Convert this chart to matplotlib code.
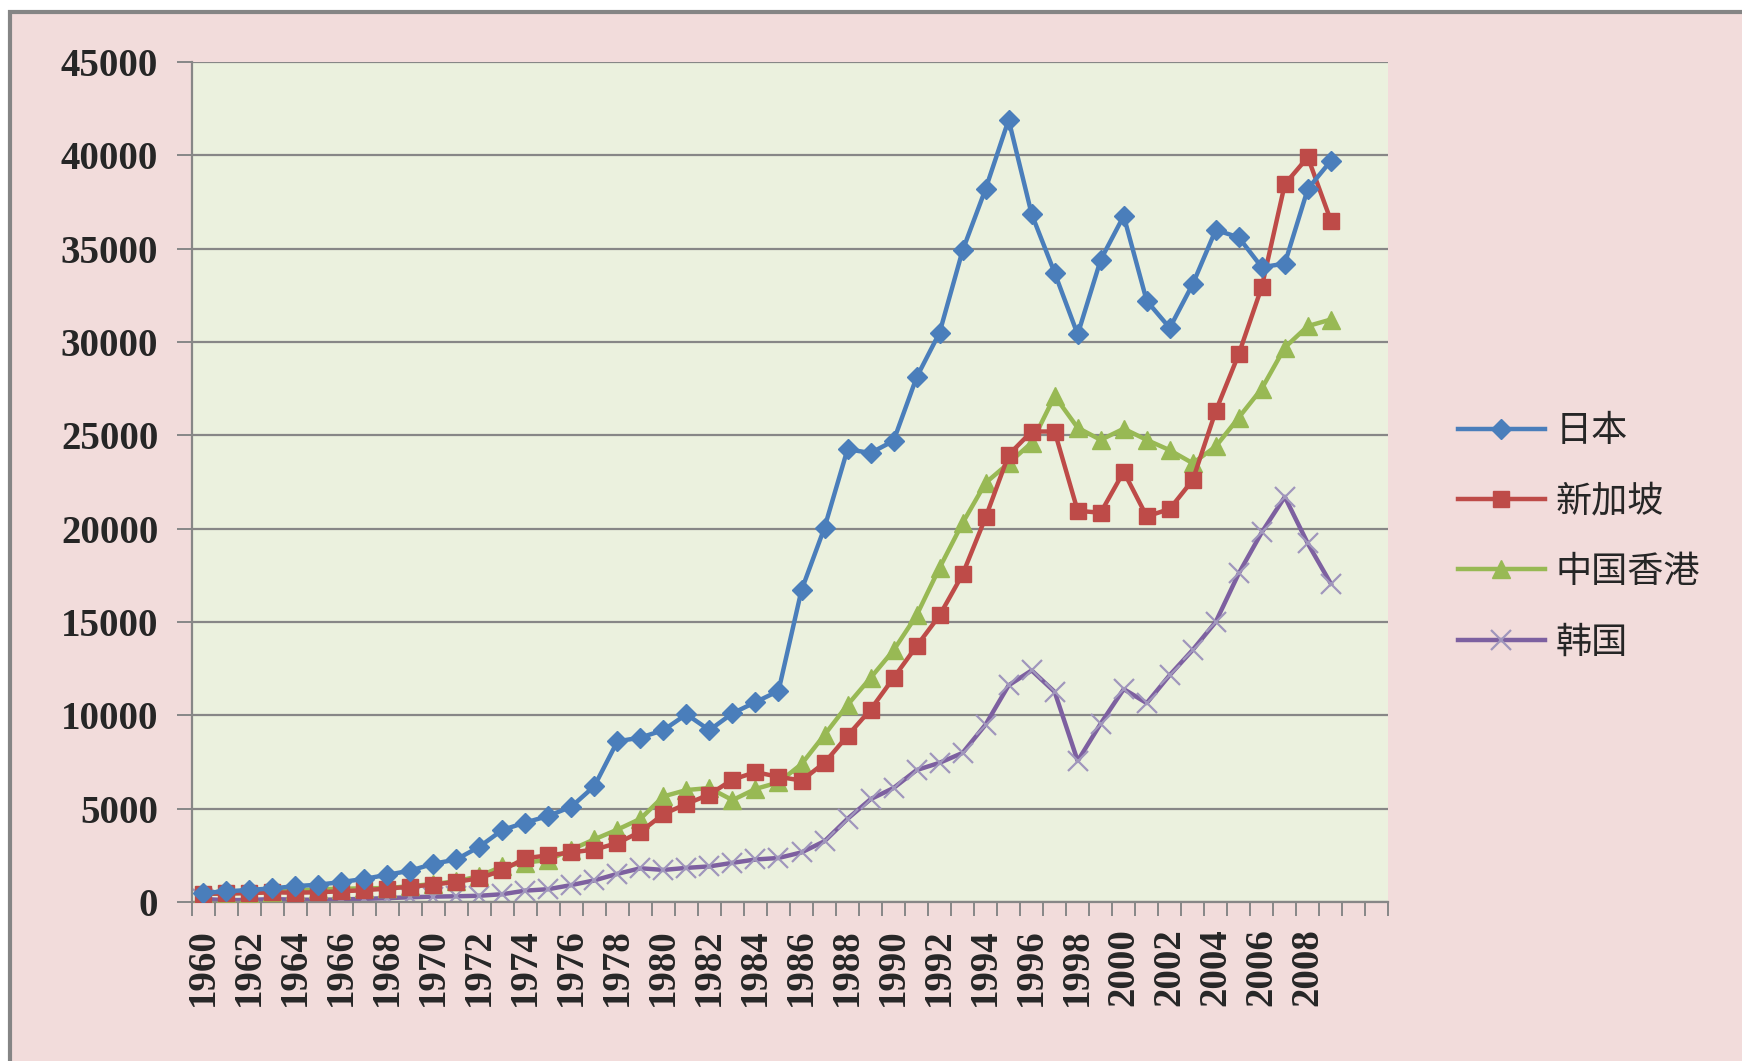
import matplotlib.pyplot as plt
import matplotlib.patches as patches
import numpy as np

years = list(range(1960, 2010))
# two empty categories after 2009, as in the original sheet
n_categories = 52

japan = [480, 560, 640, 720, 840, 920, 1060, 1230, 1450, 1670,
         2040, 2270, 2950, 3850, 4250, 4600, 5100, 6200, 8600, 8800,
         9200, 10050, 9200, 10100, 10700, 11300, 16700, 20050, 24250, 24050,
         24700, 28100, 30500, 34900, 38200, 41900, 36850, 33700, 30400, 34400,
         36750, 32200, 30750, 33100, 36000, 35600, 34000, 34200, 38200, 39700]

singapore = [430, 450, 470, 510, 490, 515, 565, 625, 710, 810,
             925, 1070, 1265, 1690, 2340, 2490, 2650, 2800, 3150, 3750,
             4700, 5250, 5750, 6550, 6950, 6700, 6500, 7450, 8900, 10300,
             12000, 13700, 15350, 17550, 20600, 23950, 25200, 25200, 20950, 20850,
             23050, 20650, 21050, 22600, 26300, 29350, 32950, 38450, 39900, 36500]

hongkong = [430, 440, 485, 550, 610, 680, 700, 725, 740, 840,
            960, 1100, 1380, 1900, 2100, 2250, 2800, 3350, 3870, 4450,
            5650, 5990, 6100, 5450, 6050, 6400, 7380, 8950, 10550, 12000,
            13480, 15350, 17900, 20300, 22450, 23500, 24600, 27100, 25400, 24750,
            25350, 24750, 24200, 23500, 24400, 25950, 27500, 29700, 30850, 31200]

korea = [155, 90, 105, 145, 120, 110, 130, 160, 200, 245,
         280, 300, 325, 410, 600, 680, 900, 1150, 1500, 1800,
         1710, 1820, 1900, 2090, 2270, 2350, 2650, 3250, 4450, 5500,
         6100, 7060, 7450, 7980, 9500, 11600, 12400, 11250, 7550, 9550,
         11400, 10650, 12150, 13500, 15000, 17600, 19800, 21700, 19200, 17050]

names = ['日本', '新加坡', '中国香港', '韩国']
yticks = list(range(0, 45001, 5000))

fig = plt.figure(figsize=(17.42, 10.61), dpi=100)
fig.patch.set_facecolor('white')

# pink chart area with grey frame
frame = patches.Rectangle((0.0057, -0.05), 1.1, 0.9887 + 0.05, transform=fig.transFigure,
                          facecolor='#f2dcdb', edgecolor='#858585', linewidth=3, zorder=-10)
fig.patches.append(frame)

ax = fig.add_axes([0.110, 0.150, 0.687, 0.7916])
ax.set_facecolor('#ebf1de')

x = np.arange(len(years))
ax.plot(x, japan, color='#4a7ebb', lw=3.2, marker='D', ms=10.5,
        mfc='#4a7ebb', mec='#4a7ebb', label=names[0], zorder=5)
ax.plot(x, singapore, color='#be4b48', lw=3.2, marker='s', ms=11.5,
        mfc='#be4b48', mec='#be4b48', label=names[1], zorder=4)
ax.plot(x, hongkong, color='#98b954', lw=3.2, marker='^', ms=12.5,
        mfc='#98b954', mec='#98b954', label=names[2], zorder=3)
ax.plot(x, korea, color='#7d60a0', lw=3.2, marker='x', ms=15, mew=1.6,
        mec='#a096bc', label=names[3], zorder=2)

ax.set_xlim(-0.5, n_categories - 0.5)
ax.set_ylim(0, 45000)

ax.set_yticks(yticks)
ax.set_yticklabels([str(v) for v in yticks])
ax.yaxis.grid(True, color='#878787', lw=1.6)
ax.set_axisbelow(True)

label_pos = [i for i, yr in enumerate(years) if yr % 2 == 0]
ax.set_xticks(label_pos)
ax.set_xticklabels([str(years[i]) for i in label_pos], rotation=90)
ax.set_xticks(np.arange(-0.5, n_categories, 1.0), minor=True)

ax.tick_params(axis='x', which='major', length=0, pad=19)
ax.tick_params(axis='x', which='minor', length=10, width=1.4, color='#878787', direction='out')
ax.tick_params(axis='y', length=11, width=1.4, color='#878787', pad=13)

for lab in ax.get_xticklabels() + ax.get_yticklabels():
    lab.set_fontfamily(['Liberation Serif', 'DejaVu Serif'])
    lab.set_fontweight('bold')
    lab.set_fontsize(28)
    lab.set_color('#262626')

for side in ['top', 'right']:
    ax.spines[side].set_visible(False)
for side in ['left', 'bottom']:
    ax.spines[side].set_color('#878787')
    ax.spines[side].set_linewidth(1.6)

leg = fig.legend(loc='center left', bbox_to_anchor=(0.837, 0.494), frameon=False,
                 prop={'family': ['Noto Sans CJK SC', 'DejaVu Sans'], 'size': 26},
                 handlelength=2.4, handletextpad=0.3, labelspacing=0.95,
                 borderpad=0, borderaxespad=0)
for t in leg.get_texts():
    t.set_color('#262626')

fig.savefig('out.png', dpi=100, facecolor=fig.get_facecolor())
